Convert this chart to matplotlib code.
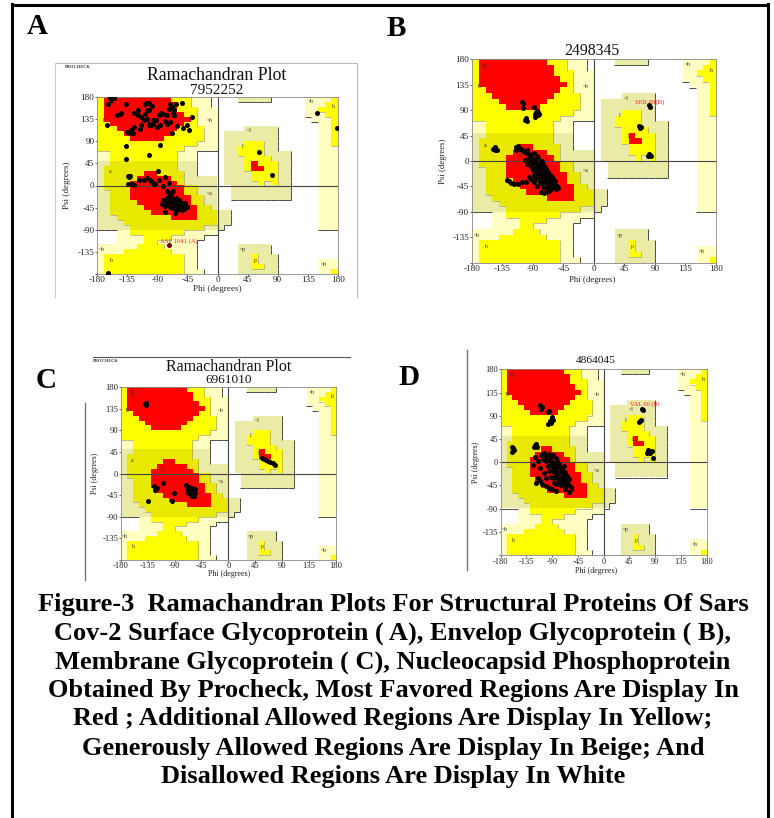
import re
import numpy as np
import matplotlib
matplotlib.use("Agg")
import matplotlib.pyplot as plt
from matplotlib.lines import Line2D

# ---------------- data ----------------
# PROCHECK region map, 10-degree cells; rows psi 180 -> -180, cols phi -180 -> 180
# R core (red), Y/O allowed (yellow), C/K generous (beige), W disallowed (white)
region_rows = [
    "Y1R10Y3C3W4K5W5C4Y1",
    "Y1R11Y2C3W14C3Y2",
    "Y1R11Y3C3W13C2Y3",
    "Y1R12Y2C3W13C3Y2",
    "Y1R13Y1C3W14C3Y1",
    "Y2R11Y2C3W15C2Y1",
    "Y3R9Y4C2W4K5W6C2Y1",
    "Y4R7Y5C2W1K8W6C2Y1",
    "Y5R5Y6C2W1K8W6C2Y1",
    "Y15C3W1K3Y3K2W6C2Y1",
    "Y13C5W1K2Y4K2W6C3",
    "C2Y10C3W4K2Y4K4W4C3",
    "C2Y10C3W4K3Y4K3W4C3",
    "K2O10K3W4K3Y1R1Y3K2W4C3",
    "K1O11K3W4K3Y1R2Y2K2W4C3",
    "K1O6R2O4K2W4K4Y4K2W4C3",
    "K1O5R5O2K5W1K4Y4K2W4C3",
    "K1O4R7O1K5W1K5Y1K1Y1K2W4C3",
    "K1O4R8O2K3W2K9W4C3",
    "K2O3R8O2K3W2K9W4C3",
    "K2O3R9O2K2W2K9W4C3",
    "K2O4R8O2K2W15C3",
    "K2O5R8O2K1W15C3",
    "K2O6R7O3K2W13C3",
    "K3O8R4O3K2W13C3",
    "K4O14K2W13C3",
    "K5O11K3W14C3",
    "W3C2Y8C5W18",
    "W3C4Y4C5W20",
    "W3C4Y2C6W21",
    "C6Y4C5W6K5W10",
    "C4Y7C4W6K5W10",
    "C1Y12C2W6K2Y1K3W9",
    "C1Y12C2W6K2Y1K3W6C3",
    "C1Y12C2W6K2Y2K2W6C3",
    "C1Y12C3W5K6W6C2Y1",
]
region_colors = {"R": "#FF0000", "Y": "#FFFF00", "O": "#E8E800",
                 "C": "#FFFFC0", "K": "#EBEBA8", "W": "#FFFFFF"}
region_level = {"R": 3, "Y": 2, "O": 2, "C": 1, "K": 1, "W": 0}

map_labels = ["B", "b", "A", "a", "L", "l", "p", "~p", "~b", "~a", "~l", "~b", "b", "~b", "b", "~b"]
map_label_phi = [-160, -170, -109, -161, 53, 38, 57, 38, -12, -12, 48, 139, 172, 159, -160, -173]
map_label_psi = [168, 132, 9, 28, 43, 80, -152, -131, 132, -16, 111, 170, 160, -160, -152, -131]

ticks = [-180, -135, -90, -45, 0, 45, 90, 135, 180]
tick_text = ["-180", "-135", "-90", "-45", "0", "45", "90", "135", "180"]

# panel A (7952252)
a_phi = [-161, -155, -159, -163, -136, -119, -145, -150, -144, -124, -119, -109, -105, -102, -98, -103,
         -106, -115, -108, -105, -102, -100, -97, -92, -88, -84, -81, -76, -73, -68, -71, -62, -65, -67,
         -65, -71, -76, -78, -86, -91, -96, -103, -110, -115, -125, -129, -126, -116, -130, -135, -68,
         -60, -53, -46, -43, -38, -52, -165, -136, -86, -103, -136,
         -89, -134, -130, -132, -118, -110, -106, -101, -93, -87, -78, -98, -95, -73, -133, -128, -125,
         -81, -76, -73, -72, -70, -67, -66, -76, -81, -83, -78, -75, -68, -66, -63, -61, -62, -58, -57,
         -55, -53, -51, -46, -48, -53, -61, -66, -71, -78, -63, -60, -58, -64, -70, -56, -59, -62, -65,
         -69, -74, -50, -54,
         62, 82, 148, 178, -163]
a_psi = [177, 178, 173, 166, 166, 153, 146, 143, 148, 148, 144, 165, 168, 168, 161, 154,
         153, 139, 145, 136, 126, 123, 133, 134, 143, 148, 146, 144, 155, 160, 166, 166, 153, 148,
         143, 129, 126, 131, 123, 119, 126, 123, 133, 123, 119, 112, 107, 114, 106, 109, 106,
         121, 168, 123, 112, 139, 116, 123, 80, 82, 62, 54,
         30, 19, 19, 18, 12, 12, 15, 11, 4, 11, 18, 8, 3, 6, 3, 3, 2,
         -2, -12, -16, -23, -19, -12, -29, -26, -29, -37, -41, -36, -35, -40, -33, -43, -26, -36, -46,
         -43, -50, -43, -43, -36, -36, -50, -46, -43, -53, -56, -40, -30, -38, -30, -48, -45, -47, -33,
         -25, -31, -47, -39,
         69, 21, 148, 117, -178]
a_flag_phi = [-73]
a_flag_psi = [-122]
a_flag_text = "ASP 1041 (A)"

# panel B (2498345)
b_phi = [-106, -105, -104, -88, -85, -83, -81, -87, -84, -100, -99, -101, -86, -82,
         -148, -145, -143, -146, -114, -111, -115, -112,
         -96, -92, -88, -84, -90, -86, -82, -94, -89, -85, -80, -77, -92, -87, -83, -79, -75, -72,
         -90, -86, -82, -78, -74, -70, -67,
         -88, -84, -80, -76, -73, -69, -65, -62,
         -85, -81, -77, -74, -70, -66, -63, -60, -57,
         -80, -76, -72, -68, -65, -61, -58, -55,
         -75, -71, -67, -63, -60, -56, -53,
         -78, -74, -70, -66,
         -128, -125, -122, -118, -112, -106, -100,
         -108, -104, -100, -98, -95, -101, -98, -96, -92, -88, -84,
         83, 82, 69, 67, 68, 83, 80, 82, 84]
b_psi = [105, 102, 93, 96, 86, 81, 83, 78, 89, 76, 71, 73, 84, 87,
         22, 19, 20, 24, 24, 22, 19, 26,
         12, 10, 14, 8, 4, 2, 5, -2, -4, -6, -3, 0, -10, -12, -10, -8, -6, -10,
         -16, -18, -15, -14, -17, -15, -19,
         -24, -22, -25, -21, -24, -22, -25, -28,
         -30, -32, -29, -33, -30, -32, -35, -31, -36,
         -38, -40, -37, -41, -38, -42, -40, -44,
         -46, -48, -45, -49, -46, -50, -47,
         -54, -56, -55, -53,
         -33, -36, -39, -40, -41, -38, -37,
         22, 18, 14, 20, 6, 2, -6, -28, -32, -38, -44,
         96, 99, 60, 62, 58, 11, 8, 13, 9]
b_flag_phi = []
b_flag_psi = []
b_flag_text = "SER 89(B)"

# panel C (6961010)
c_phi = [-138, -137, -137, -139,
         -124, -123, -119, -109, -91, -94, -134,
         -70, -66, -64, -60, -62, -58, -67, -63, -59, -55, -61, -57, -65, -69, -56,
         57, 60, 63, 66, 70, 74, 78]
c_psi = [145, 143, 147, 146,
         -25, -34, -29, -20, -41, -56, -57,
         -24, -28, -33, -30, -38, -36, -40, -44, -42, -40, -47, -46, -36, -34, -33,
         32, 31, 29, 27, 25, 22, 19]

# panel D (4864045)
d_phi = [-111, -110, -108, -97, -95, -91, -89, -94, -97, -92, -90,
         -161, -158, -160, -156, -120, -117, -122, -119,
         -110, -104, -100, -96, -92, -88, -84, -106, -100, -95, -90, -86, -82, -78,
         -98, -93, -89, -85, -81, -77, -73, -70,
         -96, -91, -87, -83, -79, -75, -71, -67, -64,
         -92, -88, -84, -80, -76, -72, -68, -65, -61,
         -86, -82, -78, -74, -70, -66, -62, -58,
         -115, -112, -118, -108, -100, -95, -90, -84,
         -60, -58, -68, -120, -115, -124, -112, -105, -100,
         69, 67, 63, 65, 62, 78, 81, 87, 76, 84]
d_psi = [111, 104, 107, 98, 100, 85, 82, 79, 74, 76, 87,
         30, 27, 20, 24, 33, 30, 29, 35,
         14, 18, 12, 16, 10, 14, 8, 6, 2, 4, 0, -2, 2, -4,
         -8, -6, -10, -8, -12, -10, -14, -8,
         -18, -16, -20, -18, -22, -20, -24, -20, -26,
         -28, -30, -26, -32, -30, -34, -31, -36, -33,
         -40, -42, -38, -44, -41, -46, -43, -48,
         -30, -36, -40, -42, -46, -50, -52, -55,
         -58, -53, -52, 10, 2, -6, -12, -22, -30,
         101, 104, 79, 81, 77, 24, 17, 9, 17, 21]
d_flag_phi = []
d_flag_psi = []
d_flag_text = "VAL 60 (B)"

caption_lines = [
    "Figure-3  Ramachandran Plots For Structural Proteins Of Sars",
    "Cov-2 Surface Glycoprotein ( A), Envelop Glycoprotein ( B),",
    "Membrane Glycoprotein ( C), Nucleocapsid Phosphoprotein",
    "Obtained By Procheck, Most Favored Regions Are Display In",
    "Red ; Additional Allowed Regions Are Display In Yellow;",
    "Generously Allowed Regions Are Display In Beige; And",
    "Disallowed Regions Are Display In White",
]

# ---------------- build region map ----------------
def parse_row(s):
    out = ""
    for code, n in re.findall(r"([A-Z])(\d+)", s):
        out += code * int(n)
    out = (out + "W" * 36)[:36]
    return out

grid = [parse_row(r) for r in region_rows]
rgb = np.array([[matplotlib.colors.to_rgb(region_colors[c]) for c in row] for row in grid])
lev = np.array([[region_level[c] for c in row] for row in grid])
phi_edges = np.linspace(-180, 180, 37)
psi_edges = np.linspace(180, -180, 37)

# ---------------- figure ----------------
W_PX, H_PX = 774, 818
fig = plt.figure(figsize=(W_PX / 100, H_PX / 100), dpi=100)
SERIF = ["Liberation Serif", "DejaVu Serif"]

def fx(x):
    return x / W_PX

def fy(y):
    return 1 - y / H_PX

def add_axes_px(x0, y0, x1, y1):
    return fig.add_axes([fx(x0), fy(y1), (x1 - x0) / W_PX, (y1 - y0) / H_PX])

def shadow_style(a, b):
    if a == 3 or a <= b:
        return None
    if b == 0:
        return ("#3c3c3c", 0.65)
    return ("#9a9a70", 0.45)

def draw_panel(ax, phis, psis, flag_phi, flag_psi, flag_text, flag_pos, flag_fs, tfs):
    ax.imshow(rgb, extent=(-180, 180, -180, 180), origin="upper", aspect="auto",
              interpolation="nearest", zorder=0)
    # shadow edges (right & bottom of regions)
    for i in range(36):
        for j in range(35):
            st = shadow_style(lev[i, j], lev[i, j + 1])
            if st:
                ax.plot([phi_edges[j + 1]] * 2, [psi_edges[i], psi_edges[i + 1]],
                        color=st[0], lw=st[1], zorder=1, solid_capstyle="butt")
    for i in range(35):
        for j in range(36):
            st = shadow_style(lev[i, j], lev[i + 1, j])
            if st:
                ax.plot([phi_edges[j], phi_edges[j + 1]], [psi_edges[i + 1]] * 2,
                        color=st[0], lw=st[1], zorder=1, solid_capstyle="butt")
    ax.axhline(0, color="#444444", lw=0.8, zorder=2)
    ax.axvline(0, color="#444444", lw=0.8, zorder=2)
    for t, p, s in zip(map_labels, map_label_phi, map_label_psi):
        if flag_text and abs(s - flag_pos[1]) < 10 and flag_pos[0] - 8 < p < flag_pos[0] + 45:
            s = s - 9  # keep the region tag visible beside the residue label
        ax.text(p, s, t, fontsize=4.2, color="#333333", family=SERIF, ha="center",
                va="center", zorder=3)
    ax.scatter(phis, psis, s=13, c="black", marker="o", linewidths=0, zorder=4)
    if flag_phi:
        ax.scatter(flag_phi, flag_psi, s=13, c="#7a0000", marker="o", linewidths=0, zorder=4)
    if flag_text:
        ax.text(flag_pos[0], flag_pos[1], flag_text, fontsize=flag_fs, color="#ff2020",
                family=SERIF, ha="left", va="center", zorder=5)
    ax.set_xlim(-180, 180)
    ax.set_ylim(-180, 180)
    ax.set_xticks(ticks)
    ax.set_xticklabels(tick_text)
    ax.set_yticks(ticks)
    ax.set_yticklabels([""] + tick_text[1:])
    ax.tick_params(labelsize=tfs, length=1.2, width=0.5, pad=0.6, colors="#222222")
    for lab in ax.get_xticklabels() + ax.get_yticklabels():
        lab.set_family(SERIF)
    for sp in ax.spines.values():
        sp.set_color("#888888")
        sp.set_linewidth(0.6)

panels = [
    dict(rect=(97, 97, 338, 274), phi=a_phi, psi=a_psi, fphi=a_flag_phi, fpsi=a_flag_psi,
         ftext=a_flag_text, fpos=(-86, -113), ffs=4.8, tfs=6.6,
         titles=[("Ramachandran Plot", 75, 12.8), ("7952252", 90, 11)], cx=217,
         xlab_y=289, ylab_x=67, lfs=6.6),
    dict(rect=(471.7, 59.3, 716, 262.7), phi=b_phi, psi=b_psi, fphi=b_flag_phi, fpsi=b_flag_psi,
         ftext=b_flag_text, fpos=(61, 104), ffs=4.8, tfs=6.6,
         titles=[("2498345", 51, 11.3)], cx=592, xlab_y=280, ylab_x=443, lfs=6.3),
    dict(rect=(120.7, 387.3, 336, 560), phi=c_phi, psi=c_psi, fphi=[], fpsi=[],
         ftext="", fpos=(0, 0), ffs=4.5, tfs=6.2,
         titles=[("Ramachandran Plot", 367, 11.5), ("6961010", 380, 9.5)], cx=229,
         xlab_y=574, ylab_x=95, lfs=5.8),
    dict(rect=(500.7, 369.3, 706.7, 555), phi=d_phi, psi=d_psi, fphi=d_flag_phi, fpsi=d_flag_psi,
         ftext=d_flag_text, fpos=(46, 113), ffs=4.5, tfs=6.0,
         titles=[("4864045", 361, 8.2)], cx=596, xlab_y=571, ylab_x=476, lfs=5.8),
]

for p in panels:
    ax = add_axes_px(*p["rect"])
    draw_panel(ax, p["phi"], p["psi"], p["fphi"], p["fpsi"], p["ftext"], p["fpos"], p["ffs"],
               p["tfs"])
    for txt, yy, fs in p["titles"]:
        fig.text(fx(p["cx"]), fy(yy), txt, fontsize=fs, family=SERIF, ha="center",
                 va="center", color="#111111")
    fig.text(fx(p["cx"]), fy(p["xlab_y"]), "Phi (degrees)", fontsize=p["lfs"], family=SERIF,
             ha="center", va="center", color="#222222")
    y_mid = (p["rect"][1] + p["rect"][3]) / 2
    fig.text(fx(p["ylab_x"]), fy(y_mid), "Psi (degrees)", fontsize=p["lfs"], family=SERIF,
             ha="center", va="center", rotation=90, color="#222222")

# panel letters
for letter, x, y in [("A", 37, 27), ("B", 396, 28), ("C", 46, 380), ("D", 409, 378)]:
    fig.text(fx(x), fy(y), letter, fontsize=21, fontweight="bold", family=SERIF,
             ha="center", va="center")

# PROCHECK tags
fig.text(fx(65), fy(67), "PROCHECK", fontsize=3.2, fontweight="bold", family=SERIF,
         ha="left", va="center", color="#333333")
fig.text(fx(93), fy(361), "PROCHECK", fontsize=3.2, fontweight="bold", family=SERIF,
         ha="left", va="center", color="#333333")

# decorative frames of the embedded pictures
def line_px(x0, y0, x1, y1, color, lw):
    fig.add_artist(Line2D([fx(x0), fx(x1)], [fy(y0), fy(y1)], color=color, lw=lw,
                          transform=fig.transFigure))

line_px(55, 63, 357, 63, "#bbbbbb", 0.8)
line_px(55, 63, 55, 297, "#cccccc", 0.8)
line_px(357, 63, 357, 297, "#bbbbbb", 0.8)
line_px(93, 357, 350, 357, "#555555", 0.8)
line_px(85, 403, 85, 580, "#777777", 1.0)
line_px(467, 350, 467, 570, "#777777", 1.0)

# outer frame
line_px(12.5, 5, 768, 5, "black", 2.2)
line_px(12.5, 4, 12.5, 818, "black", 2.2)
line_px(768, 4, 768, 818, "black", 2.2)

# caption
cap_y = [605, 633, 662, 690, 719, 748, 776]
for txt, yy in zip(caption_lines, cap_y):
    fig.text(fx(393), fy(yy), txt, fontsize=19, fontweight="bold", family=SERIF,
             ha="center", va="center")

fig.savefig("out.png", dpi=100)
